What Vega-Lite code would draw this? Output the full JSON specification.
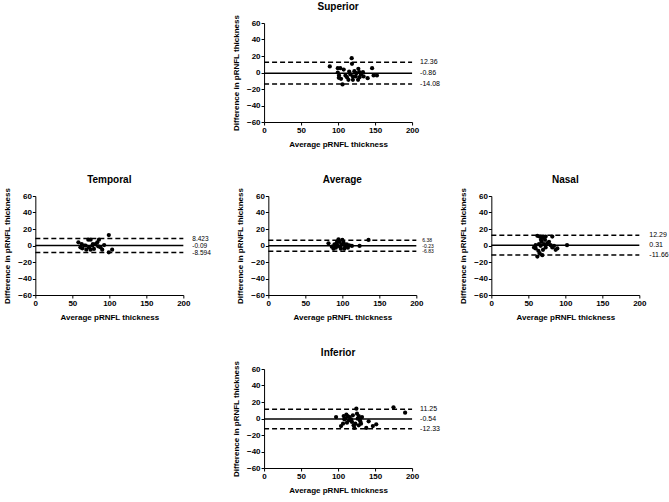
{
  "$schema": "https://vega.github.io/schema/vega-lite/v6.json",
  "padding": {"left": 3, "top": 2, "right": 3, "bottom": 2},
  "background": "white",
  "center": true,
  "spacing": 27,
  "config": {
    "view": {"stroke": null},
    "font": "Liberation Sans",
    "title": {"font": "Liberation Sans", "fontSize": 10, "fontWeight": "bold", "color": "black", "offset": 2},
    "axis": {
      "grid": false,
      "domainColor": "black",
      "domainWidth": 1,
      "tickColor": "black",
      "tickSize": 3,
      "labelColor": "black",
      "labelFont": "Liberation Sans",
      "labelFontSize": 8,
      "labelFontWeight": "bold",
      "labelPadding": 1,
      "labelOverlap": false,
      "labelFlush": false,
      "titleColor": "black",
      "titleFont": "Liberation Sans",
      "titleFontSize": 8,
      "titleFontWeight": "bold",
      "titlePadding": 6
    }
  },
  "datasets": {
    "pts": [
      {"panel": "Superior", "avg": 88.8, "diff": 7.3},
      {"panel": "Superior", "avg": 118.4, "diff": 17.4},
      {"panel": "Superior", "avg": 118.8, "diff": 10.5},
      {"panel": "Superior", "avg": 99.6, "diff": 5.3},
      {"panel": "Superior", "avg": 103, "diff": 5.3},
      {"panel": "Superior", "avg": 107.6, "diff": 3.6},
      {"panel": "Superior", "avg": 99.6, "diff": 0},
      {"panel": "Superior", "avg": 101.3, "diff": -3.6},
      {"panel": "Superior", "avg": 101, "diff": -6.5},
      {"panel": "Superior", "avg": 104, "diff": -7.7},
      {"panel": "Superior", "avg": 106, "diff": -14.5},
      {"panel": "Superior", "avg": 114, "diff": -8.9},
      {"panel": "Superior", "avg": 120, "diff": -8.9},
      {"panel": "Superior", "avg": 127, "diff": -8.9},
      {"panel": "Superior", "avg": 115, "diff": 1.2},
      {"panel": "Superior", "avg": 116.6, "diff": -2.4},
      {"panel": "Superior", "avg": 122, "diff": 1.6},
      {"panel": "Superior", "avg": 124.7, "diff": -0.8},
      {"panel": "Superior", "avg": 127.4, "diff": 4.4},
      {"panel": "Superior", "avg": 128.7, "diff": 0.4},
      {"panel": "Superior", "avg": 131, "diff": -2.4},
      {"panel": "Superior", "avg": 133.6, "diff": 0.4},
      {"panel": "Superior", "avg": 134.5, "diff": -4.8},
      {"panel": "Superior", "avg": 140, "diff": -6.9},
      {"panel": "Superior", "avg": 146, "diff": 5.3},
      {"panel": "Superior", "avg": 148, "diff": -3.6},
      {"panel": "Superior", "avg": 152.5, "diff": -3.6},
      {"panel": "Superior", "avg": 120, "diff": -4.8},
      {"panel": "Superior", "avg": 123.8, "diff": -4.8},
      {"panel": "Superior", "avg": 110, "diff": -3.6},
      {"panel": "Superior", "avg": 112, "diff": -5.7},
      {"panel": "Superior", "avg": 129, "diff": -5.7},

      {"panel": "Temporal", "avg": 58.2, "diff": 3.8},
      {"panel": "Temporal", "avg": 60.9, "diff": -2.2},
      {"panel": "Temporal", "avg": 63.5, "diff": -3.4},
      {"panel": "Temporal", "avg": 66, "diff": 0},
      {"panel": "Temporal", "avg": 68.9, "diff": -5},
      {"panel": "Temporal", "avg": 72.5, "diff": -2.2},
      {"panel": "Temporal", "avg": 71.6, "diff": 7},
      {"panel": "Temporal", "avg": 74.7, "diff": 7},
      {"panel": "Temporal", "avg": 77, "diff": 0},
      {"panel": "Temporal", "avg": 79.2, "diff": -4.2},
      {"panel": "Temporal", "avg": 81.4, "diff": 1.8},
      {"panel": "Temporal", "avg": 83.7, "diff": 3.8},
      {"panel": "Temporal", "avg": 86, "diff": 7},
      {"panel": "Temporal", "avg": 85, "diff": -1},
      {"panel": "Temporal", "avg": 88, "diff": -2.2},
      {"panel": "Temporal", "avg": 90.4, "diff": -5},
      {"panel": "Temporal", "avg": 93, "diff": 0.6},
      {"panel": "Temporal", "avg": 99.3, "diff": 12.7},
      {"panel": "Temporal", "avg": 99.3, "diff": -8.3},
      {"panel": "Temporal", "avg": 103.8, "diff": -5},
      {"panel": "Temporal", "avg": 74.7, "diff": -5},
      {"panel": "Temporal", "avg": 77.8, "diff": 1.8},
      {"panel": "Temporal", "avg": 68, "diff": 0},
      {"panel": "Temporal", "avg": 62.6, "diff": 1.8},

      {"panel": "Average", "avg": 81.3, "diff": 2.6},
      {"panel": "Average", "avg": 85.8, "diff": -1.4},
      {"panel": "Average", "avg": 88, "diff": -3.9},
      {"panel": "Average", "avg": 90.3, "diff": 0.2},
      {"panel": "Average", "avg": 92.6, "diff": 3.5},
      {"panel": "Average", "avg": 94.8, "diff": 7.5},
      {"panel": "Average", "avg": 95.8, "diff": 4.3},
      {"panel": "Average", "avg": 97, "diff": -1.4},
      {"panel": "Average", "avg": 99.3, "diff": 1.4},
      {"panel": "Average", "avg": 101.6, "diff": 3.5},
      {"panel": "Average", "avg": 103.8, "diff": -0.6},
      {"panel": "Average", "avg": 106, "diff": 1.4},
      {"panel": "Average", "avg": 107.5, "diff": -2.6},
      {"panel": "Average", "avg": 109.3, "diff": 0.2},
      {"panel": "Average", "avg": 112.9, "diff": -0.6},
      {"panel": "Average", "avg": 123.3, "diff": -0.6},
      {"panel": "Average", "avg": 135.4, "diff": 6.7},
      {"panel": "Average", "avg": 89.4, "diff": 1.4},
      {"panel": "Average", "avg": 91.2, "diff": -2.6},
      {"panel": "Average", "avg": 94, "diff": -0.6},
      {"panel": "Average", "avg": 98, "diff": -3.9},
      {"panel": "Average", "avg": 100, "diff": 6.7},
      {"panel": "Average", "avg": 102.7, "diff": -3.9},

      {"panel": "Nasal", "avg": 62.2, "diff": 11.8},
      {"panel": "Nasal", "avg": 65.3, "diff": 10.9},
      {"panel": "Nasal", "avg": 68.9, "diff": 9.7},
      {"panel": "Nasal", "avg": 73.4, "diff": 10.9},
      {"panel": "Nasal", "avg": 82.4, "diff": 10.9},
      {"panel": "Nasal", "avg": 57.7, "diff": -2.4},
      {"panel": "Nasal", "avg": 59.9, "diff": -3.6},
      {"panel": "Nasal", "avg": 62.2, "diff": -13.4},
      {"panel": "Nasal", "avg": 65.3, "diff": -9.3},
      {"panel": "Nasal", "avg": 68.9, "diff": -11.8},
      {"panel": "Nasal", "avg": 64.4, "diff": 1.6},
      {"panel": "Nasal", "avg": 66.7, "diff": -0.4},
      {"panel": "Nasal", "avg": 68, "diff": 4.5},
      {"panel": "Nasal", "avg": 71.2, "diff": 1.6},
      {"panel": "Nasal", "avg": 69.8, "diff": -5.3},
      {"panel": "Nasal", "avg": 73.4, "diff": -2.4},
      {"panel": "Nasal", "avg": 75.7, "diff": 2.8},
      {"panel": "Nasal", "avg": 77.9, "diff": 4.5},
      {"panel": "Nasal", "avg": 80.2, "diff": 0.4},
      {"panel": "Nasal", "avg": 82.4, "diff": -2.4},
      {"panel": "Nasal", "avg": 84.7, "diff": -0.4},
      {"panel": "Nasal", "avg": 86.9, "diff": -5.3},
      {"panel": "Nasal", "avg": 89.2, "diff": -3.6},
      {"panel": "Nasal", "avg": 102.3, "diff": 0.4},
      {"panel": "Nasal", "avg": 63.5, "diff": -6.5},
      {"panel": "Nasal", "avg": 67.1, "diff": 6.9},
      {"panel": "Nasal", "avg": 72.5, "diff": 6.9},
      {"panel": "Nasal", "avg": 59.9, "diff": 0.4},

      {"panel": "Inferior", "avg": 97.3, "diff": 1.8},
      {"panel": "Inferior", "avg": 104, "diff": -9.1},
      {"panel": "Inferior", "avg": 106.7, "diff": -6.3},
      {"panel": "Inferior", "avg": 107.6, "diff": 3},
      {"panel": "Inferior", "avg": 110, "diff": -0.2},
      {"panel": "Inferior", "avg": 111.2, "diff": 4.6},
      {"panel": "Inferior", "avg": 113, "diff": 3},
      {"panel": "Inferior", "avg": 115.7, "diff": 1.8},
      {"panel": "Inferior", "avg": 117.5, "diff": -1},
      {"panel": "Inferior", "avg": 118.8, "diff": -4.2},
      {"panel": "Inferior", "avg": 121, "diff": -8.3},
      {"panel": "Inferior", "avg": 122, "diff": -11.5},
      {"panel": "Inferior", "avg": 123.3, "diff": -6.3},
      {"panel": "Inferior", "avg": 124.7, "diff": 11.9},
      {"panel": "Inferior", "avg": 125.6, "diff": 5.9},
      {"panel": "Inferior", "avg": 127.9, "diff": 3},
      {"panel": "Inferior", "avg": 129.1, "diff": -1},
      {"panel": "Inferior", "avg": 130, "diff": -3.4},
      {"panel": "Inferior", "avg": 131, "diff": -6.3},
      {"panel": "Inferior", "avg": 138.1, "diff": -11.5},
      {"panel": "Inferior", "avg": 141.3, "diff": -3.4},
      {"panel": "Inferior", "avg": 147, "diff": -9.1},
      {"panel": "Inferior", "avg": 151.6, "diff": -7},
      {"panel": "Inferior", "avg": 174.9, "diff": 13.5},
      {"panel": "Inferior", "avg": 190.6, "diff": 7.1},
      {"panel": "Inferior", "avg": 108.5, "diff": -1},
      {"panel": "Inferior", "avg": 112, "diff": -5},
      {"panel": "Inferior", "avg": 114.8, "diff": -2.2},
      {"panel": "Inferior", "avg": 120, "diff": 3.8},
      {"panel": "Inferior", "avg": 126.5, "diff": -0.2},
      {"panel": "Inferior", "avg": 132.3, "diff": 1.8},
      {"panel": "Inferior", "avg": 127.9, "diff": -8.3}
    ],
    "lines": [
      {"panel": "Superior", "value": 12.36, "kind": "limit", "label": "12.36"},
      {"panel": "Superior", "value": -0.86, "kind": "mean", "label": "-0.86"},
      {"panel": "Superior", "value": -14.08, "kind": "limit", "label": "-14.08"},
      {"panel": "Temporal", "value": 8.423, "kind": "limit", "label": "8.423"},
      {"panel": "Temporal", "value": -0.09, "kind": "mean", "label": "-0.09"},
      {"panel": "Temporal", "value": -8.594, "kind": "limit", "label": "-8.594"},
      {"panel": "Average", "value": 6.38, "kind": "limit", "label": "6.38"},
      {"panel": "Average", "value": -0.23, "kind": "mean", "label": "-0.23"},
      {"panel": "Average", "value": -6.83, "kind": "limit", "label": "-6.83"},
      {"panel": "Nasal", "value": 12.29, "kind": "limit", "label": "12.29"},
      {"panel": "Nasal", "value": 0.31, "kind": "mean", "label": "0.31"},
      {"panel": "Nasal", "value": -11.66, "kind": "limit", "label": "-11.66"},
      {"panel": "Inferior", "value": 11.25, "kind": "limit", "label": "11.25"},
      {"panel": "Inferior", "value": -0.54, "kind": "mean", "label": "-0.54"},
      {"panel": "Inferior", "value": -12.33, "kind": "limit", "label": "-12.33"}
    ]
  },
  "vconcat": [
    {
      "title": "Superior",
      "width": 148, "height": 99,
      "layer": [
        {"data": {"name": "pts"}, "transform": [{"filter": "datum.panel === 'Superior'"}],
         "mark": {"type": "circle", "size": 18, "color": "black", "opacity": 1},
         "encoding": {
           "x": {"field": "avg", "type": "quantitative", "scale": {"domain": [0, 200], "nice": false}, "axis": {"values": [0, 50, 100, 150, 200], "tickCount": 5, "title": "Average pRNFL thickness"}},
           "y": {"field": "diff", "type": "quantitative", "scale": {"domain": [-60, 60], "nice": false}, "axis": {"values": [-60, -40, -20, 0, 20, 40, 60], "tickCount": 7, "title": "Difference in pRNFL thickness"}}}},
        {"data": {"name": "lines"}, "transform": [{"filter": "datum.panel === 'Superior'"}],
         "mark": {"type": "rule", "color": "black", "strokeWidth": 1.5},
         "encoding": {"y": {"field": "value", "type": "quantitative"}, "x": {"datum": 0}, "x2": {"datum": 200},
           "strokeDash": {"field": "kind", "type": "nominal", "scale": {"domain": ["mean", "limit"], "range": [[1, 0], [5, 3]]}, "legend": null}}},
        {"data": {"name": "lines"}, "transform": [{"filter": "datum.panel === 'Superior'"}],
         "mark": {"type": "text", "align": "left", "baseline": "middle", "dx": 8, "fontSize": 7, "fill": "black"},
         "encoding": {"x": {"datum": 200}, "y": {"field": "value", "type": "quantitative"}, "text": {"field": "label"}}}
      ]
    },
    {
      "hconcat": [
        {
          "title": "Temporal",
          "width": 148, "height": 99,
          "layer": [
            {"data": {"name": "pts"}, "transform": [{"filter": "datum.panel === 'Temporal'"}],
             "mark": {"type": "circle", "size": 18, "color": "black", "opacity": 1},
             "encoding": {
               "x": {"field": "avg", "type": "quantitative", "scale": {"domain": [0, 200], "nice": false}, "axis": {"values": [0, 50, 100, 150, 200], "tickCount": 5, "title": "Average pRNFL thickness"}},
               "y": {"field": "diff", "type": "quantitative", "scale": {"domain": [-60, 60], "nice": false}, "axis": {"values": [-60, -40, -20, 0, 20, 40, 60], "tickCount": 7, "title": "Difference in pRNFL thickness"}}}},
            {"data": {"name": "lines"}, "transform": [{"filter": "datum.panel === 'Temporal'"}],
             "mark": {"type": "rule", "color": "black", "strokeWidth": 1.5},
             "encoding": {"y": {"field": "value", "type": "quantitative"}, "x": {"datum": 0}, "x2": {"datum": 200},
               "strokeDash": {"field": "kind", "type": "nominal", "scale": {"domain": ["mean", "limit"], "range": [[1, 0], [5, 3]]}, "legend": null}}},
            {"data": {"name": "lines"}, "transform": [{"filter": "datum.panel === 'Temporal'"}],
             "mark": {"type": "text", "align": "left", "baseline": "middle", "dx": 9, "fontSize": 6.5, "fill": "black"},
             "encoding": {"x": {"datum": 200}, "y": {"field": "value", "type": "quantitative"}, "text": {"field": "label"}}}
          ]
        },
        {
          "title": "Average",
          "width": 148, "height": 99,
          "layer": [
            {"data": {"name": "pts"}, "transform": [{"filter": "datum.panel === 'Average'"}],
             "mark": {"type": "circle", "size": 18, "color": "black", "opacity": 1},
             "encoding": {
               "x": {"field": "avg", "type": "quantitative", "scale": {"domain": [0, 200], "nice": false}, "axis": {"values": [0, 50, 100, 150, 200], "tickCount": 5, "title": "Average pRNFL thickness"}},
               "y": {"field": "diff", "type": "quantitative", "scale": {"domain": [-60, 60], "nice": false}, "axis": {"values": [-60, -40, -20, 0, 20, 40, 60], "tickCount": 7, "title": "Difference in pRNFL thickness"}}}},
            {"data": {"name": "lines"}, "transform": [{"filter": "datum.panel === 'Average'"}],
             "mark": {"type": "rule", "color": "black", "strokeWidth": 1.5},
             "encoding": {"y": {"field": "value", "type": "quantitative"}, "x": {"datum": 0}, "x2": {"datum": 200},
               "strokeDash": {"field": "kind", "type": "nominal", "scale": {"domain": ["mean", "limit"], "range": [[1, 0], [5, 3]]}, "legend": null}}},
            {"data": {"name": "lines"}, "transform": [{"filter": "datum.panel === 'Average'"}],
             "mark": {"type": "text", "align": "left", "baseline": "middle", "dx": 6, "fontSize": 5, "fill": "black"},
             "encoding": {"x": {"datum": 200}, "y": {"field": "value", "type": "quantitative"}, "text": {"field": "label"}}}
          ]
        },
        {
          "title": "Nasal",
          "width": 148, "height": 99,
          "layer": [
            {"data": {"name": "pts"}, "transform": [{"filter": "datum.panel === 'Nasal'"}],
             "mark": {"type": "circle", "size": 18, "color": "black", "opacity": 1},
             "encoding": {
               "x": {"field": "avg", "type": "quantitative", "scale": {"domain": [0, 200], "nice": false}, "axis": {"values": [0, 50, 100, 150, 200], "tickCount": 5, "title": "Average pRNFL thickness"}},
               "y": {"field": "diff", "type": "quantitative", "scale": {"domain": [-60, 60], "nice": false}, "axis": {"values": [-60, -40, -20, 0, 20, 40, 60], "tickCount": 7, "title": "Difference in pRNFL thickness"}}}},
            {"data": {"name": "lines"}, "transform": [{"filter": "datum.panel === 'Nasal'"}],
             "mark": {"type": "rule", "color": "black", "strokeWidth": 1.5},
             "encoding": {"y": {"field": "value", "type": "quantitative"}, "x": {"datum": 0}, "x2": {"datum": 200},
               "strokeDash": {"field": "kind", "type": "nominal", "scale": {"domain": ["mean", "limit"], "range": [[1, 0], [5, 3]]}, "legend": null}}},
            {"data": {"name": "lines"}, "transform": [{"filter": "datum.panel === 'Nasal'"}],
             "mark": {"type": "text", "align": "left", "baseline": "middle", "dx": 10, "fontSize": 7, "fill": "black"},
             "encoding": {"x": {"datum": 200}, "y": {"field": "value", "type": "quantitative"}, "text": {"field": "label"}}}
          ]
        }
      ],
      "spacing": 25
    },
    {
      "title": "Inferior",
      "width": 148, "height": 99,
      "layer": [
        {"data": {"name": "pts"}, "transform": [{"filter": "datum.panel === 'Inferior'"}],
         "mark": {"type": "circle", "size": 18, "color": "black", "opacity": 1},
         "encoding": {
           "x": {"field": "avg", "type": "quantitative", "scale": {"domain": [0, 200], "nice": false}, "axis": {"values": [0, 50, 100, 150, 200], "tickCount": 5, "title": "Average pRNFL thickness"}},
           "y": {"field": "diff", "type": "quantitative", "scale": {"domain": [-60, 60], "nice": false}, "axis": {"values": [-60, -40, -20, 0, 20, 40, 60], "tickCount": 7, "title": "Difference in pRNFL thickness"}}}},
        {"data": {"name": "lines"}, "transform": [{"filter": "datum.panel === 'Inferior'"}],
         "mark": {"type": "rule", "color": "black", "strokeWidth": 1.5},
         "encoding": {"y": {"field": "value", "type": "quantitative"}, "x": {"datum": 0}, "x2": {"datum": 200},
           "strokeDash": {"field": "kind", "type": "nominal", "scale": {"domain": ["mean", "limit"], "range": [[1, 0], [5, 3]]}, "legend": null}}},
        {"data": {"name": "lines"}, "transform": [{"filter": "datum.panel === 'Inferior'"}],
         "mark": {"type": "text", "align": "left", "baseline": "middle", "dx": 8, "fontSize": 7, "fill": "black"},
         "encoding": {"x": {"datum": 200}, "y": {"field": "value", "type": "quantitative"}, "text": {"field": "label"}}}
      ]
    }
  ]
}
